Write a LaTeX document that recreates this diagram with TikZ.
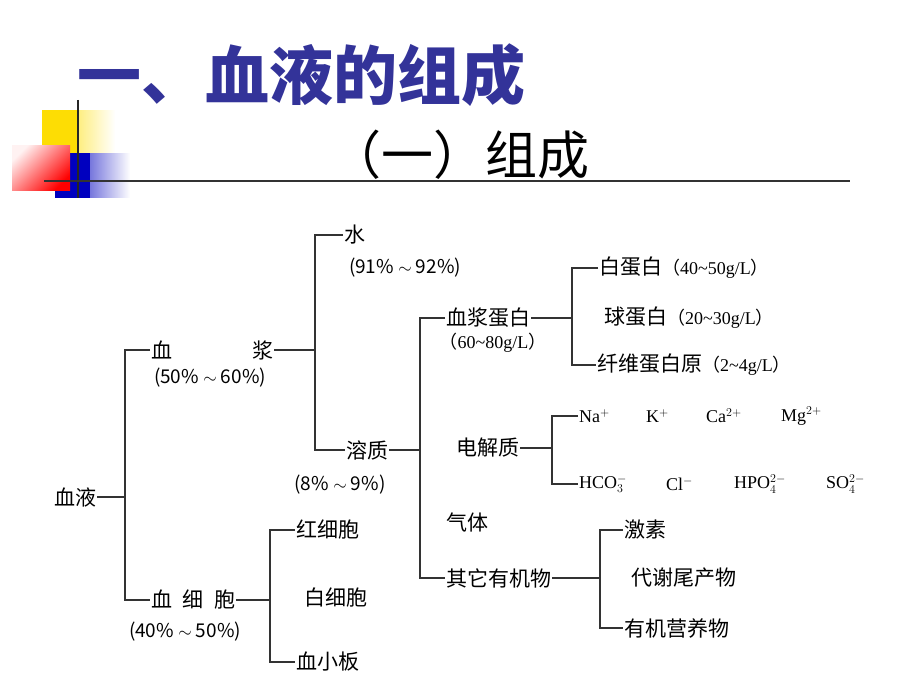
\documentclass[tikz,border=0pt]{standalone}
\usepackage{fontspec}
\setmainfont{Liberation Serif}
\newfontfamily\cjk{Noto Sans CJK SC}
\usetikzlibrary{fadings}
\definecolor{titleblue}{HTML}{333399}
\tikzset{
    every node/.style={font=\cjk\fontsize{21}{24}\selectfont, inner sep=1pt},
    lbl/.style={anchor=west},
    num/.style={font=\cjk\fontsize{19}{22}\selectfont},
    tnum/.style={font=\fontsize{18}{20}\selectfont},
    br/.style={line width=1.3pt, black!80}
}
\begin{document}
\begin{tikzpicture}[x=1pt,y=-1pt]
  \useasboundingbox (0,0) rectangle (920,690);
  % decoration
  \fill[yellow!80!orange, path fading=east] (42,110) rectangle (115,153);
  \fill[yellow!80!orange] (42,110) rectangle (78,153);
  \fill[blue!75!black, path fading=east] (55,153) rectangle (130,198);
  \fill[blue!75!black] (55,153) rectangle (90,198);
  \shade[shading=axis, left color=red!5, right color=red, shading angle=45] (12,145) rectangle (70,190);
  \draw[line width=2.5pt, black!85] (78,100) -- (78,198);
  \draw[line width=2.5pt, black!80] (44,181) -- (850,181);
  % titles
  \node (title) [font=\cjk\bfseries\fontsize{64}{68}\selectfont, text=titleblue, anchor=west] at (76,75) {一、血液的组成};
  \node (sub) [font=\cjk\fontsize{52}{56}\selectfont, anchor=west] at (328,155) {（一）组成};
  % tree
  \node (blood) at (75,497) {血液};
  \node (plasma) [lbl] at (150,350) {血\hspace{3.8em}浆};
  \node (pp) [num] at (210,378) {(50\% $\sim$ 60\%)};
  \node (water) [lbl] at (343,235) {水};
  \node (wp) [num] at (405,268) {(91\% $\sim$ 92\%)};
  \node (solute) [lbl] at (345,450) {溶质};
  \node (sp) [num] at (340,485) {(8\% $\sim$ 9\%)};
  \node (prot) [lbl] at (445,318) {血浆蛋白};
  \node (protp) at (493,343) {\fontsize{18}{20}\selectfont（\rmfamily 60\textasciitilde80g/L\cjk）};
  \node (alb) [lbl] at (598,268) {白蛋白\fontsize{18}{20}\selectfont（\rmfamily 40\textasciitilde50g/L\cjk）};
  \node (glob) [lbl] at (603,318) {球蛋白\fontsize{18}{20}\selectfont（\rmfamily 20\textasciitilde30g/L\cjk）};
  \node (fib) [lbl] at (596,365) {纤维蛋白原\fontsize{18}{20}\selectfont（\rmfamily 2\textasciitilde4g/L\cjk）};
  \node (elec) [lbl] at (455,448) {电解质};
  \node (na) [lbl, tnum] at (578,416) {Na$^+$};
  \node (k) [lbl, tnum] at (645,416) {K$^+$};
  \node (ca) [lbl, tnum] at (705,416) {Ca$^{2+}$};
  \node (mg) [lbl, tnum] at (780,416) {Mg$^{2+}$};
  \node (hco) [lbl, tnum] at (578,484) {HCO$_3^-$};
  \node (cl) [lbl, tnum] at (665,484) {Cl$^-$};
  \node (hpo) [lbl, tnum] at (733,484) {HPO$_4^{2-}$};
  \node (so) [lbl, tnum] at (825,484) {SO$_4^{2-}$};
  \node (gas) [lbl] at (445,522) {气体};
  \node (org) [lbl] at (445,578) {其它有机物};
  \node (horm) [lbl] at (623,530) {激素};
  \node (waste) [lbl] at (630,578) {代谢尾产物};
  \node (nutr) [lbl] at (623,628) {有机营养物};
  \node (cells) [lbl] at (150,600) {血\hspace{0.5em}细\hspace{0.5em}胞};
  \node (cp) [num] at (185,632) {(40\% $\sim$ 50\%)};
  \node (rbc) [lbl] at (295,530) {红细胞};
  \node (wbc) [lbl] at (303,598) {白细胞};
  \node (plt) [lbl] at (295,662) {血小板};
  % brackets
  \draw[br] (blood.east) -- (125,497);
  \draw[br] (plasma.west) -- (125,350) -- (125,600) -- (cells.west);
  \draw[br] (plasma.east) -- (315,350);
  \draw[br] (water.west) -- (315,235) -- (315,450) -- (solute.west);
  \draw[br] (solute.east) -- (420,450);
  \draw[br] (prot.west) -- (420,318) -- (420,578) -- (org.west);
  \draw[br] (prot.east) -- (572,318);
  \draw[br] (alb.west) -- (572,268) -- (572,365) -- (fib.west);
  \draw[br] (elec.east) -- (552,448);
  \draw[br] (na.west) -- (552,416) -- (552,484) -- (hco.west);
  \draw[br] (org.east) -- (600,578);
  \draw[br] (horm.west) -- (600,530) -- (600,628) -- (nutr.west);
  \draw[br] (cells.east) -- (270,600);
  \draw[br] (rbc.west) -- (270,530) -- (270,662) -- (plt.west);
\end{tikzpicture}
\end{document}
